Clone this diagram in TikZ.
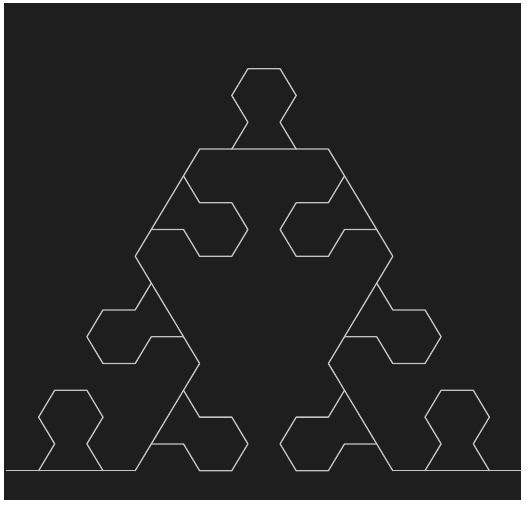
\documentclass[tikz,border=0pt]{standalone}
\definecolor{bg}{HTML}{1E1E1E}
\definecolor{ln}{HTML}{C4C4C4}
\tikzset{curve/.style={draw=ln, line width=1.3pt, line join=round, line cap=round}}
\begin{document}
\begin{tikzpicture}
\useasboundingbox (-264pt,-33.3pt) rectangle (262pt,470.7pt);
\fill[white] (-264pt,-33.3pt) rectangle (262pt,470.7pt);
\fill[bg] (-260pt,-29.3pt) rectangle (257pt,467.7pt);
\begin{scope}[x=16.1pt, y=26.8pt]
% baseline
\draw[curve] (-16,0) -- (-8,0);
\draw[curve] (8,0) -- (16,0);
% bottom bulbs
\draw[curve] (-14,0)--(-13,1)--(-14,2)--(-13,3)--(-11,3)--(-10,2)--(-11,1)--(-10,0);
\draw[curve] (10,0)--(11,1)--(10,2)--(11,3)--(13,3)--(14,2)--(13,1)--(14,0);
% main outline
\draw[curve] (-8,0)--(-4,4)--(-8,8)--(-4,12)--(4,12)--(8,8)--(4,4)--(8,0);
% top bulb
\draw[curve] (-2,12)--(-1,13)--(-2,14)--(-1,15)--(1,15)--(2,14)--(1,13)--(2,12);
% bottom lobes
\draw[curve] (-5,3)--(-4,2)--(-2,2)--(-1,1)--(-2,0)--(-4,0)--(-5,1)--(-7,1);
\draw[curve] (5,3)--(4,2)--(2,2)--(1,1)--(2,0)--(4,0)--(5,1)--(7,1);
% middle lobes
\draw[curve] (-7,7)--(-8,6)--(-10,6)--(-11,5)--(-10,4)--(-8,4)--(-7,5)--(-5,5);
\draw[curve] (7,7)--(8,6)--(10,6)--(11,5)--(10,4)--(8,4)--(7,5)--(5,5);
% upper lobes
\draw[curve] (-5,11)--(-4,10)--(-2,10)--(-1,9)--(-2,8)--(-4,8)--(-5,9)--(-7,9);
\draw[curve] (5,11)--(4,10)--(2,10)--(1,9)--(2,8)--(4,8)--(5,9)--(7,9);
\end{scope}
\end{tikzpicture}
\end{document}
